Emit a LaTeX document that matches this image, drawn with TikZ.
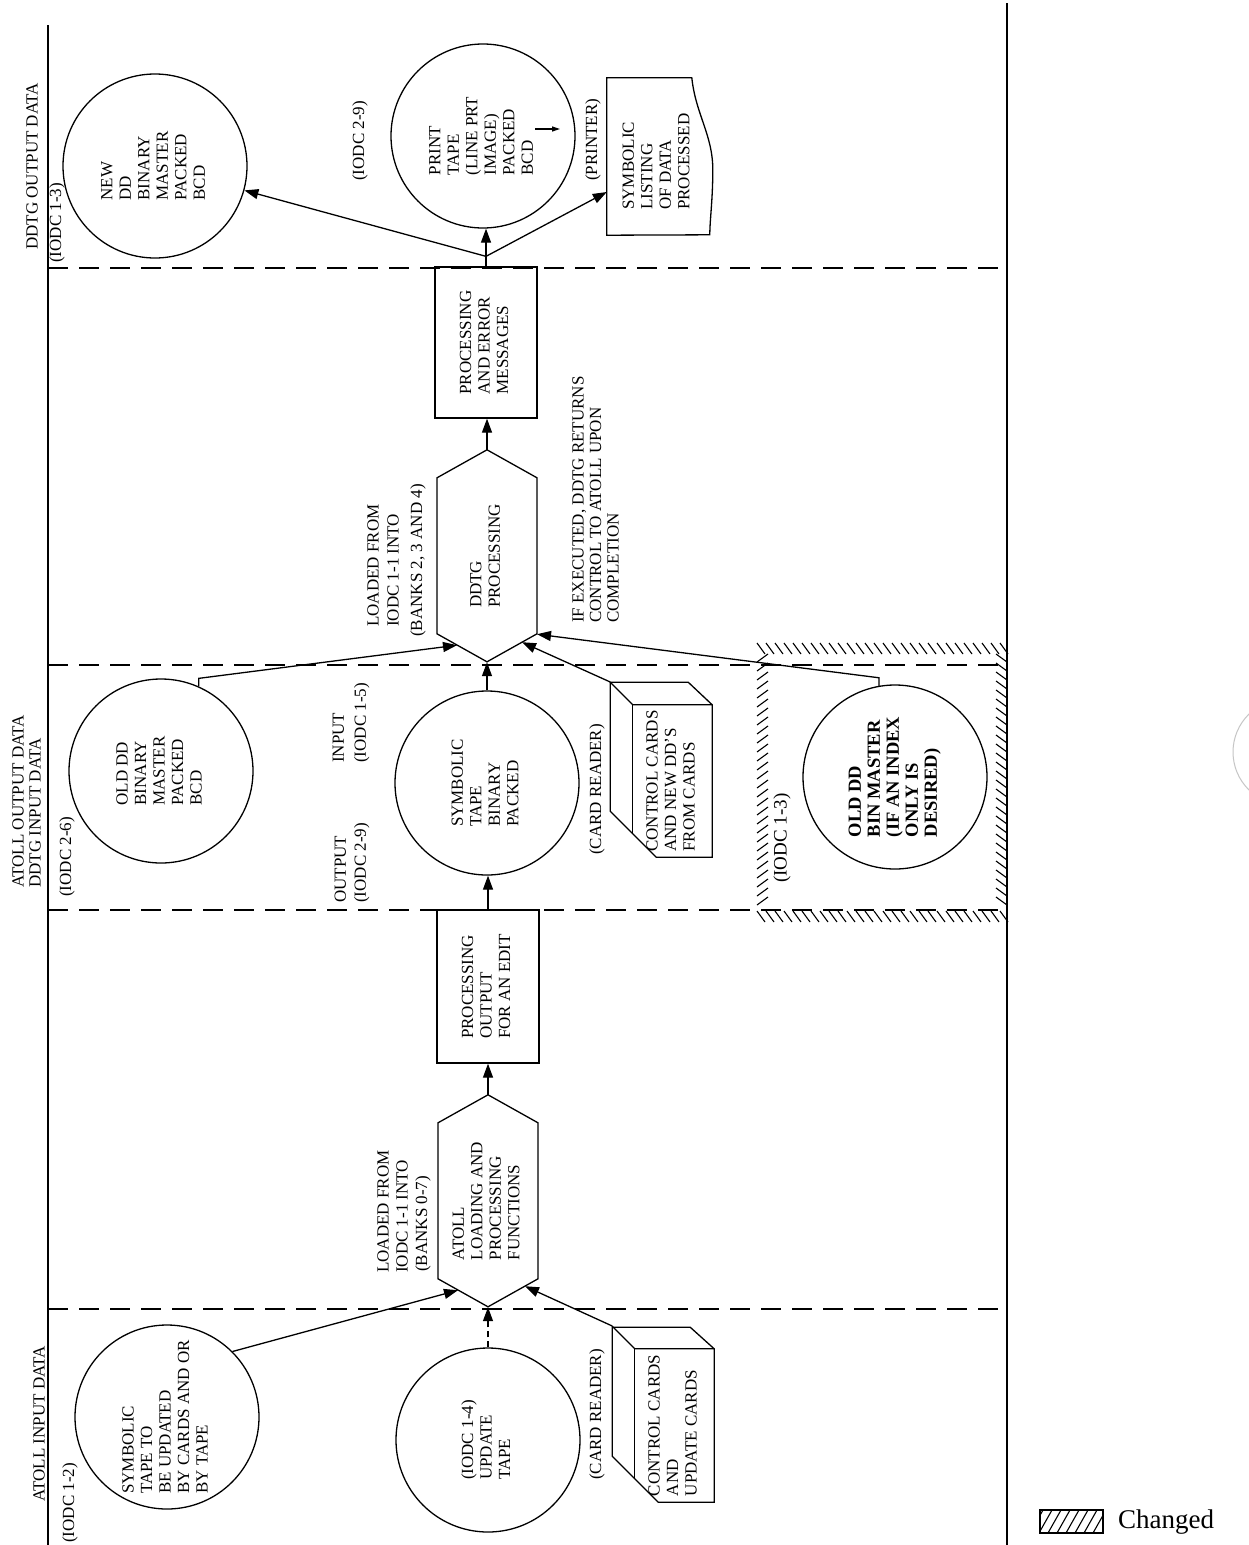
\documentclass[tikz,border=0pt]{standalone}
\usepackage{fontspec}
\setmainfont{Liberation Serif}
\usepackage{graphicx}
\usetikzlibrary{arrows.meta,calc}
\newcommand{\mytxt}{\fontsize{17}{18.5}\selectfont}
\newcommand{\boldtxt}{\fontsize{18.5}{19}\selectfont\bfseries}
\newcommand{\rt}[1]{\rotatebox{90}{\begin{tabular}{@{}l@{}}#1\end{tabular}}}
\newcommand{\cardreader}[1]{%
  \draw[shp] (#1.north east) -- (#1.south east) -- ++(-56,0) -- ++(-46,-46) -- ++(0,-129) -- ++(78,0) -- cycle;
  \draw[shp] (#1.north east) -- (#1.north west) -- ++(-23,-23);
  \draw[shp] (#1.north west) -- ++(0,129);
}
\tikzset{
  bord/.style={line width=1.8pt},
  dline/.style={line width=1.8pt, dash pattern=on 20pt off 11pt},
  shp/.style={draw, line width=1.3pt},
  circ/.style={shp, circle, minimum size=184pt, inner sep=0pt, font=\mytxt},
  boxn/.style={shp, rectangle, inner sep=0pt, font=\mytxt},
  hexn/.style={inner sep=0pt, minimum width=100pt, minimum height=212pt, font=\mytxt},
  lbl/.style={rotate=90, anchor=west, align=left, inner sep=0pt, font=\mytxt},
  arr/.style={line width=1.3pt, -{Triangle[length=14pt,width=10pt]}},
  conn/.style={line width=1.3pt},
  hatch/.style={line width=1.1pt},
}
\begin{document}
\begin{tikzpicture}[x=1pt,y=-1pt]
\useasboundingbox (0,0) rectangle (1249,1545);
\fill[white] (0,0) rectangle (1249,1545);

% ---- frame lines
\coordinate (LT) at (48,25); \coordinate (LB) at (48,1545);
\coordinate (RT) at (1007,3); \coordinate (RB) at (1007,1545);
\draw[bord] (LT) -- (LB);
\draw[bord] (RT) -- (RB);
\foreach \yy/\nm in {268/a,665/b,910/c,1309/d} {
  \coordinate (dl\nm) at (48,\yy); \coordinate (dr\nm) at (1007,\yy);
  \draw[dline] (dl\nm) -- (dr\nm);
}

% ---- changed hatching
\foreach \i in {0,...,27} {
  \draw[hatch] ({757+\i*9},643) -- ++(8,11);
  \draw[hatch] ({757+\i*9},911) -- ++(8,11);
}
\foreach \i in {0,...,27} {
  \draw[hatch] (757,{662+\i*9}) -- ++(11,-8);
  \draw[hatch] (996,{654+\i*9}) -- ++(11,8);
}

% ---- circles
\node[circ] (newdd) at (155,166) {\rt{NEW\\DD\\BINARY\\MASTER\\PACKED\\BCD}};
\node[circ] (printtape) at (483,136) {\rt{PRINT\\TAPE\\(LINE PRT\\IMAGE)\\PACKED\\BCD}};
\node[circ] (olddd) at (161,771) {\rt{OLD DD\\BINARY\\MASTER\\PACKED\\BCD}};
\node[circ] (symtape) at (487,783) {\rt{SYMBOLIC\\TAPE\\BINARY\\PACKED}};
\node[circ, font=\boldtxt] (oldbin) at (895,777) {\rt{OLD DD\\BIN MASTER\\(IF AN INDEX\\ONLY IS\\DESIRED)}};
\node[circ] (symupd) at (167,1417) {\rt{SYMBOLIC\\TAPE TO\\BE UPDATED\\BY CARDS AND OR\\BY TAPE}};
\node[circ] (updtape) at (488,1440) {\rt{(IODC 1-4)\\UPDATE\\TAPE}};

% ---- boxes
\node[boxn, minimum width=102pt, minimum height=151pt] (procerr) at (486,342.5) {\rt{PROCESSING\\AND ERROR\\MESSAGES}};
\node[boxn, minimum width=102pt, minimum height=153pt] (procedit) at (488,986.5) {\rt{PROCESSING\\OUTPUT\\FOR AN EDIT}};

% ---- hexagons
\node[hexn] (ddtg) at (487,556) {\rt{DDTG\\PROCESSING}};
\draw[shp] (ddtg.north) -- ++(50,28) -- ++(0,156) -- ++(-50,28) -- ++(-50,-28) -- ++(0,-156) -- cycle;
\node[hexn] (atoll) at (488,1201) {\rt{ATOLL\\LOADING AND\\PROCESSING\\FUNCTIONS}};
\draw[shp] (atoll.north) -- ++(50,28) -- ++(0,156) -- ++(-50,28) -- ++(-50,-28) -- ++(0,-156) -- cycle;
\coordinate (ddtgL) at ($(ddtg.south)+(-30,-17)$);
\coordinate (ddtgRL) at ($(ddtg.south)+(35,-20)$);
\coordinate (ddtgR) at ($(ddtg.south)+(50,-28)$);
\coordinate (atollL) at ($(atoll.south)+(-30,-17)$);
\coordinate (atollRL) at ($(atoll.south)+(37,-21)$);

% ---- printer listing (document shape)
\node[inner sep=0pt, minimum width=93pt, minimum height=157pt] (listing) at (653.5,156.5) {};
\draw[shp] (listing.north west) -- ++(85,0) .. controls +(4,37) and +(0,-35) .. ++(21,92) .. controls +(0,30) and +(0,-15) .. ++(-3,65) -- (listing.south west) -- cycle;
\node[lbl] (listingtxt) at (656,210) {SYMBOLIC\\LISTING\\OF DATA\\PROCESSED};
\coordinate (listingin) at ($(listing.west)+(0,35.5)$);

% ---- card readers
\node[inner sep=0pt, minimum width=79pt, minimum height=152pt, font=\mytxt] (cr1) at (672.5,781) {\rt{CONTROL CARDS\\AND NEW DD'S\\FROM CARDS}};
\cardreader{cr1}
\coordinate (cr1A) at ($(cr1.north west)+(-23,-23)$);
\node[inner sep=0pt, minimum width=79pt, minimum height=153pt, font=\mytxt] (cr2) at (674.5,1425.5) {\rt{CONTROL CARDS\\AND\\UPDATE CARDS}};
\cardreader{cr2}
\coordinate (cr2A) at ($(cr2.north west)+(-23,-23)$);

% ---- labels
\node[lbl] (hdrout) at (32,250) {DDTG OUTPUT DATA};
\node[lbl] (iodc13a) at (57,263) {(IODC 1-3)};
\node[lbl] (iodc29a) at (360,181) {(IODC 2-9)};
\node[lbl] (printer) at (593,181) {(PRINTER)};
\node[lbl, font=\fontsize{17}{20}\selectfont] (ld1) at (383,627) {LOADED FROM\\IODC 1-1 INTO};
\node[lbl] (bk1) at (418,637) {(BANKS 2, 3 AND 4)};
\node[lbl, font=\fontsize{17}{17.5}\selectfont] (ifexec) at (595.5,623) {IF EXECUTED, DDTG RETURNS\\CONTROL TO ATOLL UPON\\COMPLETION};
\node[lbl, font=\fontsize{17}{17}\selectfont] (hdrmid) at (26.5,888) {ATOLL OUTPUT DATA\\DDTG INPUT DATA};
\node[lbl] (iodc26) at (67,897) {(IODC 2-6)};
\node[lbl, font=\fontsize{17}{22}\selectfont] (inlbl) at (351,763) {INPUT\\(IODC 1-5)};
\node[lbl, font=\fontsize{17}{20}\selectfont] (outlbl) at (352,903) {OUTPUT\\(IODC 2-9)};
\node[lbl] (crd1) at (597,855) {(CARD READER)};
\node[lbl, font=\fontsize{19}{20}\selectfont] (iodc13b) at (782,883) {(IODC 1-3)};
\node[lbl, font=\fontsize{17}{19}\selectfont] (ld2) at (392.5,1273) {LOADED FROM\\IODC 1-1 INTO};
\node[lbl] (bk2) at (423,1272) {(BANKS 0-7)};
\node[lbl] (crd2) at (597,1480) {(CARD READER)};
\node[lbl] (hdrin) at (39,1502) {ATOLL INPUT DATA};
\node[lbl] (iodc12) at (70,1543) {(IODC 1-2)};

% ---- connectors
\coordinate (J) at ($(procerr.north)+(0,-10)$);
\draw[conn] (procerr.north) -- (J);
\draw[arr] (J) -- (J |- printtape.south);
\draw[arr] (J) -- (newdd);
\draw[arr] (J) -- (listingin);
\draw[arr] (ddtg.north) -- (ddtg.north |- procerr.south);
\draw[arr] (symtape.north) -- (ddtg.south);
\draw[arr] (procedit.north) -- (procedit.north |- symtape.south);
\draw[arr] (atoll.north) -- (atoll.north |- procedit.south);
\draw[arr, dash pattern=on 6pt off 4pt] (updtape.north) -- (atoll.south);
\draw[arr] (olddd.66) -- ++(0,-8) -- (ddtgL);
\draw[arr] (cr1A) -- (ddtgRL);
\draw[arr] (oldbin.100) -- ++(0,-8) -- (ddtgR);
\draw[arr] (symupd.45) -- (atollL);
\draw[arr] (cr2A) -- (atollRL);

% small arrow inside print tape
\coordinate (pa1) at ($(printtape.center)+(52,-7)$);
\coordinate (pa2) at ($(pa1)+(25,0)$);
\draw[line width=1.2pt, -{Triangle[length=8pt,width=5pt]}] (pa1) -- (pa2);

% ---- legend
\node[draw, line width=1.2pt, minimum width=63pt, minimum height=23pt, inner sep=0pt] (legbox) at (1071.5,1521.5) {};
\begin{scope}
  \clip (legbox.north west) rectangle (legbox.south east);
  \foreach \i in {0,...,8} { \draw[hatch] ({1030+\i*9},1533) -- ++(13,-23); }
\end{scope}
\node[anchor=west, inner sep=0pt, font=\fontsize{27}{30}\selectfont] (legtxt) at (1118,1522) {Changed};

% ---- punch-hole edge (scan)
\begin{scope}
  \clip (1225,680) rectangle (1249,830);
  \draw[gray!45, line width=1pt] (1286,752) circle[radius=53pt];
\end{scope}
\end{tikzpicture}
\end{document}
